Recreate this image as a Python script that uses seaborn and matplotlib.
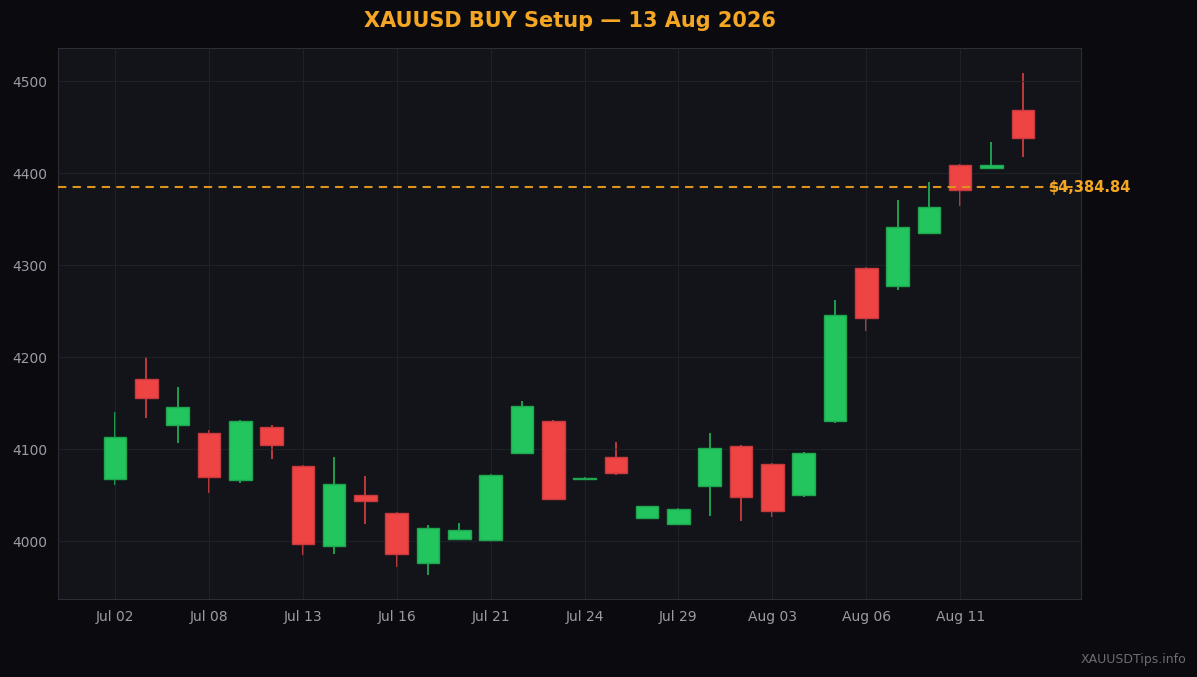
import matplotlib.pyplot as plt
import numpy as np
import seaborn as sns
import pandas as pd

#-- data --
dates   = ['Jul 02', 'Jul 06', 'Jul 07', 'Jul 08', 'Jul 09', 'Jul 10', 'Jul 13', 'Jul 14',
           'Jul 15', 'Jul 16', 'Jul 17', 'Jul 20', 'Jul 21', 'Jul 22', 'Jul 23', 'Jul 24',
           'Jul 27', 'Jul 28', 'Jul 29', 'Jul 30', 'Jul 31', 'Aug 03', 'Aug 04', 'Aug 05',
           'Aug 06', 'Aug 07', 'Aug 10', 'Aug 11', 'Aug 12', 'Aug 13']
opens   = [4067, 4176, 4126, 4117, 4066, 4124, 4082, 3995, 4050, 4031, 3976, 4002, 4001, 4096,
           4131, 4067, 4091, 4025, 4018, 4060, 4103, 4084, 4050, 4130, 4297, 4277, 4335, 4409,
           4406, 4469]
closes  = [4113, 4155, 4146, 4070, 4131, 4104, 3997, 4062, 4044, 3986, 4014, 4012, 4072, 4147,
           4046, 4069, 4074, 4038, 4035, 4101, 4048, 4033, 4096, 4246, 4242, 4341, 4363, 4382,
           4409, 4438]
highs   = [4140, 4200, 4167, 4121, 4132, 4126, 4083, 4091, 4071, 4032, 4017, 4020, 4073, 4152,
           4132, 4070, 4108, 4038, 4036, 4118, 4104, 4085, 4097, 4262, 4298, 4371, 4390, 4410,
           4434, 4509]
lows    = [4061, 4134, 4107, 4052, 4063, 4089, 3985, 3986, 4018, 3972, 3963, 4001, 3999, 4095,
           4045, 4066, 4072, 4025, 4017, 4027, 4022, 4026, 4048, 4128, 4228, 4273, 4334, 4364,
           4405, 4418]
entry_price = 4384.84
tick_every  = 3

#-- colours --
bg_fig  = '#0b0b0f'
bg_ax   = '#121419'
up_col  = '#22c55e'
up_edge = '#1fa64f'
dn_col  = '#ef4444'
dn_edge = '#c93a3f'
orange  = '#f5a623'
txt_col = '#9a9ba5'

sns.set_theme(style='dark')
plt.rcParams.update({'font.family'      : ['DejaVu Sans'],
                     'font.size'        : 10,
                     'figure.facecolor' : bg_fig,
                     'axes.facecolor'   : bg_ax,
                     'axes.edgecolor'   : '#2c2d35',
                     'xtick.color'      : txt_col,
                     'ytick.color'      : txt_col,
                     'xtick.labelsize'  : 10,
                     'ytick.labelsize'  : 10})

df = pd.DataFrame({'date': dates, 'open': opens, 'close': closes, 'high': highs, 'low': lows})
df['idx']    = np.arange(len(df))
df['bottom'] = df[['open', 'close']].min(axis=1)
df['height'] = (df['close'] - df['open']).abs()
df['up']     = df['close'] >= df['open']

fig = plt.figure(figsize=(11.97, 6.77), dpi=100)
ax  = fig.add_axes([0.0485, 0.1152, 0.8546, 0.8139])

for up, face, edge in [(True, up_col, up_edge), (False, dn_col, dn_edge)]:
    sub = df[df['up'] == up]
    ax.vlines(sub['idx'], sub['low'], sub['high'], color=face, linewidth=1.1, zorder=2)
    ax.bar(sub['idx'], sub['height'].clip(lower=1.5), bottom=sub['bottom'], width=0.72,
           color=face, edgecolor=edge, linewidth=1.0, zorder=3)

ax.axhline(entry_price, color='#dc931f', linestyle=(0, (4, 3)), linewidth=1.5, zorder=4)
ax.text(29.84, entry_price, f'${entry_price:,.2f}', color=orange, fontsize=10.5,
        fontweight='bold', ha='left', va='center', zorder=5, clip_on=False)

ax.set_xlim(-1.82, 30.86)
ax.set_ylim(3937, 4536)
ax.set_yticks(np.arange(4000, 4501, 100))
ax.set_xticks(df['idx'][::tick_every])
ax.set_xticklabels(df['date'][::tick_every])
ax.tick_params(axis='x', length=0, pad=8)
ax.tick_params(axis='y', length=4, width=0.8, color=txt_col, pad=4)
ax.grid(True, color='#25272f', linewidth=0.8, alpha=0.7, zorder=6)
ax.set_axisbelow(False)
ax.set_xlabel('')
ax.set_ylabel('')
for sp in ax.spines.values():
    sp.set_color('#2c2d35')
    sp.set_linewidth(0.8)

fig.text(0.4758, 0.9695, 'XAUUSD BUY Setup \u2014 13 Aug 2026', color=orange, fontsize=15,
         fontweight='bold', ha='center', va='center')
fig.text(0.9915, 0.026, 'XAUUSDTips.info', color='#6b6c74', fontsize=9, ha='right', va='center')

plt.savefig('out.png', dpi=100, facecolor=bg_fig)
